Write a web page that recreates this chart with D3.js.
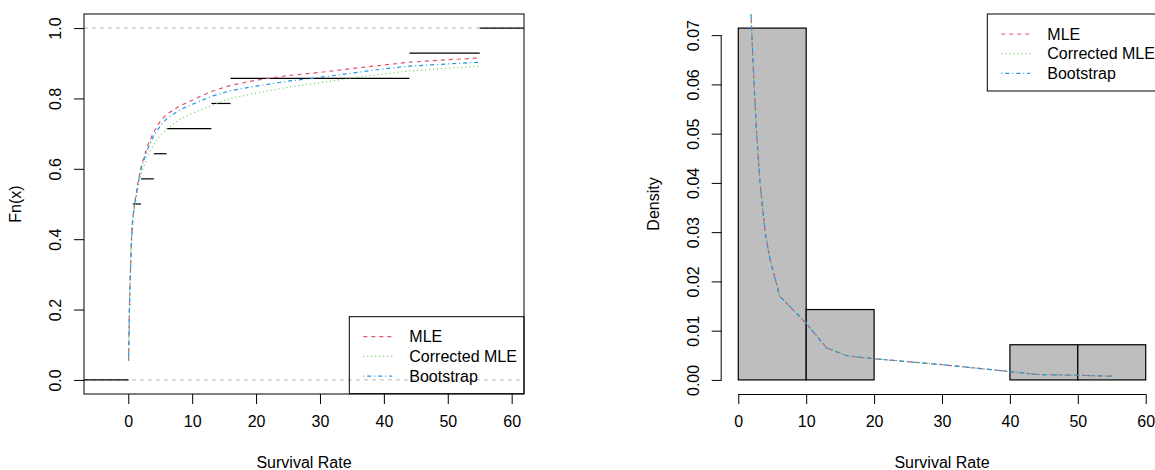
<!DOCTYPE html>
<html>
<head>
<meta charset="utf-8">
<script src="https://cdn.jsdelivr.net/npm/d3@7"></script>
<style>
  body { margin: 0; background: #fff; }
  svg text { font-family: "Liberation Sans", Arial, Helvetica, sans-serif; }
</style>
</head>
<body>
<svg id="chart" width="1155" height="470"></svg>
<script>
const sample = [0.05, 0.1, 0.2, 0.3, 0.4, 0.5, 0.7, 2, 4, 6, 13, 16, 44, 55];
const binEdges = [0, 10, 20, 30, 40, 50, 60];

// Fitted CDFs (left panel)
const cdfX    = [0.05, 0.1, 0.2, 0.3, 0.5, 0.7, 1, 1.5, 2, 3, 4, 5, 6, 8, 10, 13, 16, 20, 25, 30, 35, 40, 44, 50, 55];
const cdfMLE  = [0.055, 0.12, 0.22, 0.29, 0.40, 0.46, 0.50, 0.56, 0.605, 0.665, 0.705, 0.735, 0.755, 0.778, 0.795, 0.82, 0.837, 0.852, 0.865, 0.874, 0.885, 0.895, 0.903, 0.91, 0.915];
const cdfCor  = [0.055, 0.115, 0.21, 0.28, 0.39, 0.45, 0.49, 0.545, 0.585, 0.635, 0.67, 0.695, 0.712, 0.74, 0.758, 0.78, 0.80, 0.815, 0.832, 0.845, 0.858, 0.87, 0.878, 0.886, 0.892];
const cdfBoot = [0.055, 0.12, 0.22, 0.29, 0.40, 0.46, 0.50, 0.555, 0.60, 0.655, 0.695, 0.722, 0.742, 0.767, 0.783, 0.806, 0.822, 0.835, 0.849, 0.86, 0.872, 0.884, 0.892, 0.898, 0.903];

// Fitted densities (right panel)
const pdfX    = [1.85, 2.2, 2.7, 3.2, 4, 4.7, 6.1, 7.1, 10, 13, 16, 20, 30, 40, 44, 50, 55];
const pdfMLE  = [0.075, 0.0635, 0.050, 0.040, 0.0295, 0.0243, 0.0170, 0.0156, 0.0115, 0.0065, 0.0049, 0.0043, 0.0031, 0.0017, 0.0011, 0.00094, 0.00075];
const pdfCor  = [0.075, 0.0635, 0.050, 0.040, 0.0295, 0.0243, 0.0170, 0.0156, 0.0115, 0.0065, 0.0049, 0.0043, 0.0031, 0.0017, 0.0011, 0.00094, 0.00075];
const pdfBoot = [0.075, 0.0635, 0.050, 0.040, 0.0295, 0.0243, 0.0170, 0.0156, 0.0115, 0.0065, 0.0049, 0.0043, 0.0031, 0.0017, 0.0011, 0.00094, 0.00075];

const ticksL = [0, 10, 20, 30, 40, 50, 60];
const yTicksL = [0, 0.2, 0.4, 0.6, 0.8, 1.0];
const yTicksR = [0, 0.01, 0.02, 0.03, 0.04, 0.05, 0.06, 0.07];
const legendLabels = ["MLE", "Corrected MLE", "Bootstrap"];

const colors = ["#DF536B", "#61D04F", "#2297E6"];
const dashes = ["4,4", "1,3", "1,3,4,3"];
const fs = 16;

const svg = d3.select("#chart");
const plotTop = 14, plotBottom = 394;

// ---------- Left panel: ECDF ----------
const xL = d3.scaleLinear().domain([-6.93, 61.93]).range([84, 524]);
const yL = d3.scaleLinear().domain([-0.04, 1.04]).range([plotBottom, plotTop]);

svg.append("clipPath").attr("id", "clipL").append("rect")
    .attr("x", 84).attr("y", plotTop).attr("width", 440).attr("height", plotBottom - plotTop);

const gL = svg.append("g").attr("clip-path", "url(#clipL)");

// reference lines at 0 and 1
[0, 1].forEach(v => {
    gL.append("line")
        .attr("x1", 84).attr("x2", 524)
        .attr("y1", yL(v)).attr("y2", yL(v))
        .attr("stroke", "#b8b8b8").attr("stroke-dasharray", "4,4");
});

// ecdf steps
const n = sample.length;
const stepEdges = [xL.domain()[0], ...sample, xL.domain()[1]];
for (let i = 0; i <= n; i++) {
    gL.append("line")
        .attr("x1", xL(stepEdges[i])).attr("x2", xL(stepEdges[i + 1]))
        .attr("y1", yL(i / n)).attr("y2", yL(i / n))
        .attr("stroke", "black").attr("stroke-width", 1.2);
}

const lineL = d3.line().x(d => xL(d[0])).y(d => yL(d[1]));
[cdfMLE, cdfCor, cdfBoot].forEach((s, i) => {
    gL.append("path")
        .datum(cdfX.map((x, j) => [x, s[j]]))
        .attr("d", lineL)
        .attr("fill", "none")
        .attr("stroke", colors[i])
        .attr("stroke-width", 1.2)
        .attr("stroke-dasharray", dashes[i]);
});

// box
svg.append("rect")
    .attr("x", 84).attr("y", plotTop).attr("width", 440).attr("height", plotBottom - plotTop)
    .attr("fill", "none").attr("stroke", "black");

// axes
const axL = svg.append("g").attr("transform", `translate(0,${plotBottom})`)
    .call(d3.axisBottom(xL).tickValues(ticksL).tickSize(10).tickPadding(12));
axL.select(".domain").remove();

const ayL = svg.append("g").attr("transform", "translate(84,0)")
    .call(d3.axisLeft(yL).tickValues(yTicksL).tickSize(10).tickFormat(d3.format(".1f")));
ayL.select(".domain").remove();

function styleAxis(g) {
    g.selectAll("text").style("font-size", fs + "px").attr("fill", "black");
    g.selectAll("line").attr("stroke", "black");
}
styleAxis(axL);
styleAxis(ayL);

// rotate y labels
function rotateY(g) {
    g.selectAll(".tick text")
        .attr("x", 0).attr("dy", 0)
        .attr("text-anchor", "middle")
        .attr("transform", "translate(-23,0) rotate(-90)");
}
rotateY(ayL);

svg.append("text")
    .attr("x", (84 + 524) / 2).attr("y", 468)
    .attr("text-anchor", "middle").style("font-size", fs + "px")
    .text("Survival Rate");

svg.append("text")
    .attr("transform", `translate(21,${(plotTop + plotBottom) / 2}) rotate(-90)`)
    .attr("text-anchor", "middle").style("font-size", fs + "px")
    .text("Fn(x)");

function legend(x0, y0, w) {
    const g = svg.append("g");
    g.append("rect")
        .attr("x", x0).attr("y", y0).attr("width", w).attr("height", 77)
        .attr("fill", "none").attr("stroke", "black");
    legendLabels.forEach((lab, i) => {
        const y = y0 + 20 + i * 19.7;
        g.append("line")
            .attr("x1", x0 + 14).attr("x2", x0 + 43)
            .attr("y1", y).attr("y2", y)
            .attr("stroke", colors[i]).attr("stroke-width", 1.2)
            .attr("stroke-dasharray", dashes[i]);
        g.append("text")
            .attr("x", x0 + 60).attr("y", y).attr("dy", "0.35em")
            .style("font-size", fs + "px").text(lab);
    });
}
legend(349.3, 316.7, 174.7);

// ---------- Right panel: histogram ----------
const xR = d3.scaleLinear().domain([-2.4, 62.4]).range([722, 1162]);
const yR = d3.scaleLinear().domain([-0.00286, 0.07429]).range([plotBottom, plotTop]);

const bins = d3.bin().domain([0, 60]).thresholds(binEdges.slice(1, -1))(sample);

svg.append("g").selectAll("rect")
    .data(bins)
    .join("rect")
    .attr("x", d => xR(d.x0))
    .attr("y", d => yR(d.length / n / (d.x1 - d.x0)))
    .attr("width", d => xR(d.x1) - xR(d.x0))
    .attr("height", d => yR(0) - yR(d.length / n / (d.x1 - d.x0)))
    .attr("fill", "#BEBEBE")
    .attr("stroke", "black")
    .attr("stroke-width", 1.2);

svg.append("clipPath").attr("id", "clipR").append("rect")
    .attr("x", 722).attr("y", plotTop).attr("width", 440).attr("height", plotBottom - plotTop);

const gR = svg.append("g").attr("clip-path", "url(#clipR)");
const lineR = d3.line().x(d => xR(d[0])).y(d => yR(d[1]));
[pdfMLE, pdfCor, pdfBoot].forEach((s, i) => {
    gR.append("path")
        .datum(pdfX.map((x, j) => [x, s[j]]))
        .attr("d", lineR)
        .attr("fill", "none")
        .attr("stroke", colors[i])
        .attr("stroke-width", 1.2)
        .attr("stroke-dasharray", dashes[i]);
});

const axR = svg.append("g").attr("transform", `translate(0,${plotBottom})`)
    .call(d3.axisBottom(xR).tickValues(ticksL).tickSize(10).tickPadding(12).tickSizeOuter(0));
axR.select(".domain").attr("d", `M${xR(0)},0.5H${xR(60)}`).attr("stroke", "black");
styleAxis(axR);

const ayR = svg.append("g").attr("transform", "translate(721.7,0)")
    .call(d3.axisLeft(yR).tickValues(yTicksR).tickSize(10).tickFormat(d3.format(".2f")));
ayR.select(".domain").attr("d", `M-0.5,${yR(0)}V${yR(0.07)}`).attr("stroke", "black");
styleAxis(ayR);
rotateY(ayR);

svg.append("text")
    .attr("x", (738.3 + 1145.7) / 2).attr("y", 468)
    .attr("text-anchor", "middle").style("font-size", fs + "px")
    .text("Survival Rate");

svg.append("text")
    .attr("transform", `translate(659,${(plotTop + plotBottom) / 2}) rotate(-90)`)
    .attr("text-anchor", "middle").style("font-size", fs + "px")
    .text("Density");

legend(987.3, 14, 174.7);
</script>
</body>
</html>
